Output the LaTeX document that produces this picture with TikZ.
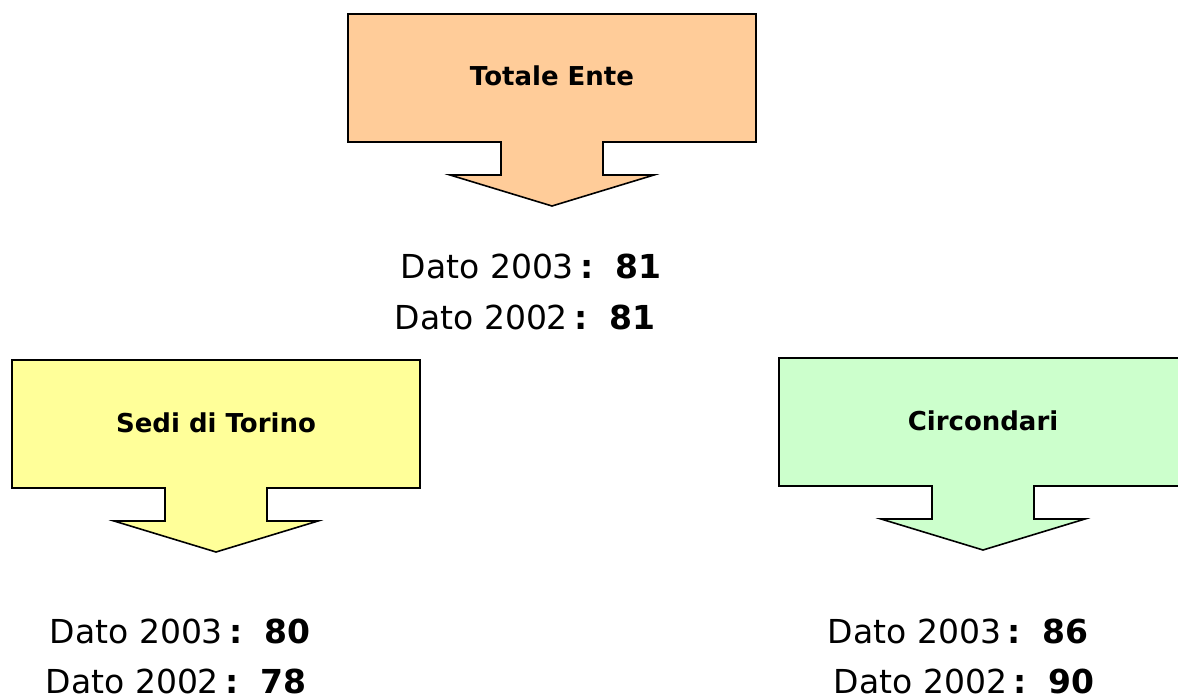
\documentclass[tikz,border=0pt]{standalone}
\usepackage{fontspec}
\setmainfont{DejaVu Sans}
\begin{document}
\begin{tikzpicture}[x=1pt,y=-1pt,
  outline/.style={draw=black,line width=1.6pt,line join=miter},
  boxlabel/.style={font=\fontsize{26}{30}\selectfont\bfseries,anchor=base,inner sep=0pt},
  valueline/.style={font=\fontsize{33}{40}\selectfont,anchor=base,inner sep=0pt},
  callout/.pic={
    \path[outline,pic actions]
      (0,0) -- (408,0) -- (408,128) -- (255,128) -- (255,161) -- (306,161)
      -- (204,192) -- (102,161) -- (153,161) -- (153,128) -- (0,128) -- cycle;
    \coordinate (-tip) at (204,192);
    \node[boxlabel] (-label) at (204,72) {\tikzpictext};
  }]
\definecolor{peach}{HTML}{FFCC99}
\definecolor{paleyellow}{HTML}{FFFF99}
\definecolor{palegreen}{HTML}{CCFFCC}
\newcommand{\datoline}[2]{Dato #1\textbf{\hspace{0.2em}:\hspace{0.65em}#2}}

\useasboundingbox (0,0) rectangle (1178,700);
\clip (0,0) rectangle (1178,700);
\fill[white] (0,0) rectangle (1178,700);

% three down-pointing callouts
\pic[fill=peach,pic text={Totale Ente}] (ente) at (348,14) {callout};
\pic[fill=paleyellow,pic text={Sedi di Torino}] (sedi) at (12,360) {callout};
\pic[fill=palegreen,pic text={Circondari}] (circ) at (779,358) {callout};

% figures below each callout
\node[valueline] (ente3) at (531,279) {\datoline{2003}{81}};
\node[valueline] (ente2) at (525,330) {\datoline{2002}{81}};
\node[valueline] (sedi3) at (180,643) {\datoline{2003}{80}};
\node[valueline] (sedi2) at (176,693) {\datoline{2002}{78}};
\node[valueline] (circ3) at (958,643) {\datoline{2003}{86}};
\node[valueline] (circ2) at (964,693) {\datoline{2002}{90}};
\end{tikzpicture}
\end{document}
